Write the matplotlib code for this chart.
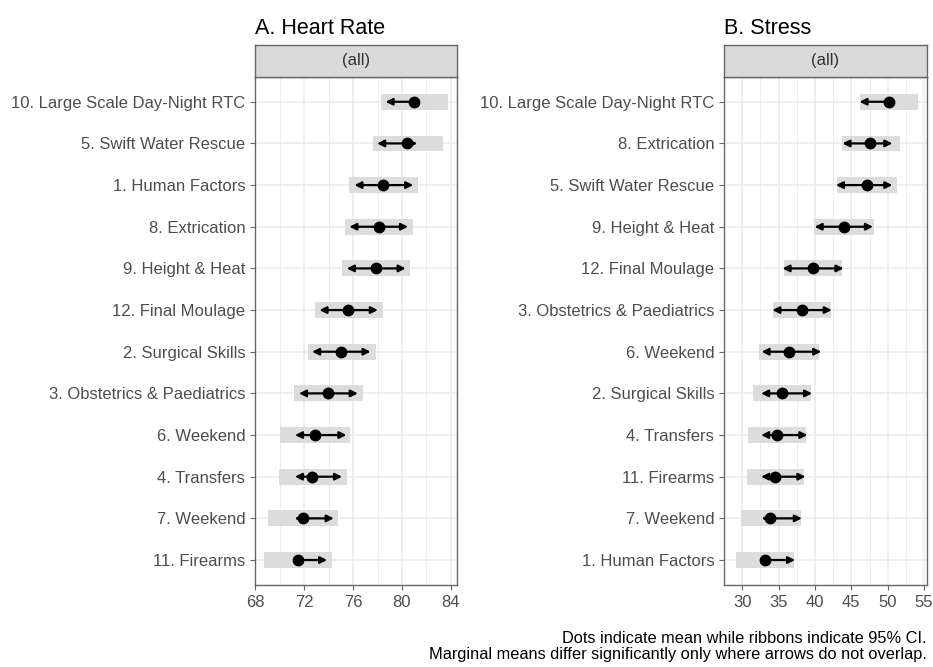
import matplotlib.pyplot as plt
import numpy as np

plt.rcParams['font.family'] = ['Liberation Sans', 'DejaVu Sans']

# A. Heart Rate (rows listed top to bottom)
hr_labels = ['10. Large Scale Day-Night RTC', '5. Swift Water Rescue', '1. Human Factors',
             '8. Extrication', '9. Height & Heat', '12. Final Moulage', '2. Surgical Skills',
             '3. Obstetrics & Paediatrics', '6. Weekend', '4. Transfers', '7. Weekend',
             '11. Firearms']
hr_mean = [80.98, 80.43, 78.47, 78.11, 77.86, 75.60, 75.02, 73.98, 72.89, 72.67, 71.91, 71.50]
hr_ci_lo = [78.25, 77.62, 75.70, 75.32, 75.08, 72.86, 72.29, 71.17, 69.99, 69.91, 69.04, 68.68]
hr_ci_hi = [83.80, 83.33, 81.30, 80.92, 80.68, 78.41, 77.84, 76.80, 75.79, 75.51, 74.78, 74.28]
hr_arr_lo = [78.66, 77.97, 76.11, 75.70, 75.49, 73.25, 72.65, 71.58, 71.25, 71.25, 71.22, 71.50]
hr_arr_hi = [80.98, 81.25, 80.92, 80.50, 80.30, 78.03, 77.43, 76.39, 75.46, 75.10, 74.42, 73.88]

# B. Stress
st_labels = ['10. Large Scale Day-Night RTC', '8. Extrication', '5. Swift Water Rescue',
             '9. Height & Heat', '12. Final Moulage', '3. Obstetrics & Paediatrics',
             '6. Weekend', '2. Surgical Skills', '4. Transfers', '11. Firearms',
             '7. Weekend', '1. Human Factors']
st_mean = [50.14, 47.61, 47.16, 44.01, 39.73, 38.20, 36.40, 35.41, 34.78, 34.55, 33.88, 33.07]
st_ci_lo = [46.22, 43.69, 43.06, 39.90, 35.68, 34.19, 32.25, 31.49, 30.86, 30.63, 29.82, 29.15]
st_ci_hi = [54.15, 51.62, 51.26, 48.10, 43.78, 42.20, 40.59, 39.46, 38.78, 38.56, 38.02, 37.12]
st_arr_lo = [46.12, 43.78, 42.88, 39.95, 35.54, 34.14, 32.66, 32.60, 32.60, 32.60, 32.66, 33.07]
st_arr_hi = [50.14, 50.63, 50.63, 47.97, 43.92, 42.30, 40.86, 39.60, 38.96, 38.69, 38.20, 37.26]

border = '#666666'
tick_col = '#4d4d4d'


def draw_panel(fig, rect, title, labels, mean, lo, hi, alo, ahi, xlim, major, minor):
    left, bottom, width, height = rect
    ax = fig.add_axes(rect)
    n = len(labels)
    y = np.arange(n)[::-1] + 1

    ax.set_xlim(*xlim)
    ax.set_ylim(0.4, n + 0.6)
    ax.set_xticks(major)
    ax.set_xticks(minor, minor=True)
    ax.set_yticks(y)
    ax.set_yticklabels(labels)
    ax.tick_params(axis='both', colors=border, labelcolor=tick_col, labelsize=12,
                   length=3.5, width=0.8)
    ax.tick_params(axis='x', which='minor', length=0)
    ax.grid(True, which='major', color='#ebebeb', lw=1.1, zorder=0)
    ax.grid(True, which='minor', axis='x', color='#ebebeb', lw=0.6, zorder=0)
    ax.set_axisbelow(True)
    for s in ax.spines.values():
        s.set_color(border)
        s.set_linewidth(1.0)

    # CI ribbons
    ax.barh(y, np.array(hi) - np.array(lo), left=lo, height=0.38,
            color='#dcdcdc', zorder=2)
    # comparison arrows
    for yi, m, a, b in zip(y, mean, alo, ahi):
        for tip in (a, b):
            if abs(tip - m) > 0.05:
                ax.annotate('', xy=(tip, yi), xytext=(m, yi),
                            arrowprops=dict(arrowstyle='-|>', color='black', lw=1.6,
                                            mutation_scale=10, shrinkA=0, shrinkB=0),
                            zorder=3)
    ax.plot(mean, y, 'o', color='black', ms=7.5, zorder=4)

    # facet strip
    sax = fig.add_axes([left, bottom + height, width, 0.0475])
    sax.set_facecolor('#d9d9d9')
    sax.set_xticks([])
    sax.set_yticks([])
    for s in sax.spines.values():
        s.set_color(border)
        s.set_linewidth(1.0)
    sax.text(0.5, 0.5, '(all)', ha='center', va='center', fontsize=12,
             color='#333333', transform=sax.transAxes)
    fig.text(left, 0.973, title, ha='left', va='top', fontsize=15.5, color='black')
    return ax


fig = plt.figure(figsize=(9.33, 6.67), dpi=100)

draw_panel(fig, [0.2733, 0.1229, 0.2165, 0.762], 'A. Heart Rate',
           hr_labels, hr_mean, hr_ci_lo, hr_ci_hi, hr_arr_lo, hr_arr_hi,
           (67.98, 84.5), [68, 72, 76, 80, 84], [70, 74, 78, 82])
draw_panel(fig, [0.776, 0.1229, 0.2173, 0.762], 'B. Stress',
           st_labels, st_mean, st_ci_lo, st_ci_hi, st_arr_lo, st_arr_hi,
           (27.97, 55.36), [30, 35, 40, 45, 50, 55],
           [27.5, 32.5, 37.5, 42.5, 47.5, 52.5])

fig.text(0.9935, 0.0305, 'Dots indicate mean while ribbons indicate 95% CI.\n'
         'Marginal means differ significantly only where arrows do not overlap.',
         ha='right', va='center', fontsize=11.8, color='black', linespacing=1.1)

fig.savefig('out.png', dpi=100)
